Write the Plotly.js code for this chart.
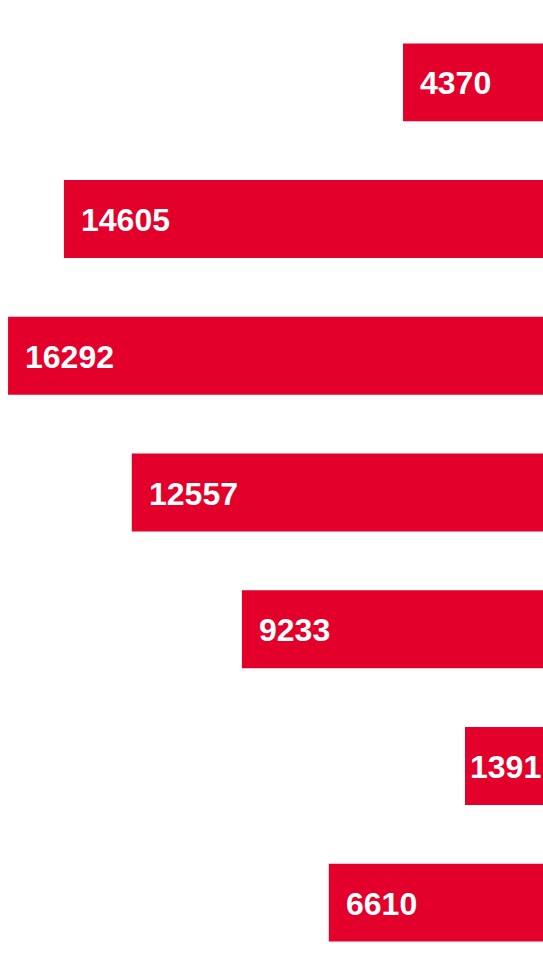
<!DOCTYPE html>
<html>
<head>
<meta charset="utf-8">
<script src="https://cdn.plot.ly/plotly-3.0.1.min.js"></script>
<style>html,body{margin:0;padding:0;background:#fff;}#chart{width:543px;height:980px;}</style>
</head>
<body>
<div id="chart"></div>
<script>
// Data (top to bottom)
const categories = ["Row A", "Row B", "Row C", "Row D", "Row E", "Row F", "Row G"];
const values = [4370, 14605, 16292, 12557, 9233, 1391, 6610];
const labels = ["4370", "14605", "16292", "12557", "9233", "1391", "6610"];

const W = 543, H = 980;
const xRange = [16535, 145];           // reversed axis, bars grow leftwards from the right edge
const minBarPx = 78;                    // bars are at least wide enough to hold their label
const unitsPerPx = (xRange[0] - xRange[1]) / W;
const minVal = xRange[1] + minBarPx * unitsPerPx;
const shown = values.map(v => Math.max(v, minVal));

const barColor = "#e3002b";

const trace = {
  type: "bar",
  orientation: "h",
  y: categories,
  x: shown,
  marker: {color: barColor, line: {width: 0}},
  hoverinfo: "skip"
};

const annotations = categories.map((c, i) => ({
  x: shown[i],
  y: c,
  xref: "x",
  yref: "y",
  text: labels[i],
  showarrow: false,
  xanchor: "left",
  yanchor: "middle",
  xshift: values[i] < minVal ? 3 : 15,
  yshift: -1,
  font: {family: "Liberation Sans, Arial, sans-serif", size: 32, color: "#ffffff", weight: "bold"}
}));

const layout = {
  width: W,
  height: H,
  margin: {l: 0, r: 0, t: 14, b: 9, pad: 0},
  paper_bgcolor: "#ffffff",
  plot_bgcolor: "#ffffff",
  showlegend: false,
  bargap: 0.43,
  xaxis: {range: xRange, visible: false, fixedrange: true},
  yaxis: {type: "category", categoryorder: "array", categoryarray: categories.slice().reverse(),
          range: [-0.5, categories.length - 0.5], visible: false, fixedrange: true},
  annotations: annotations
};

Plotly.newPlot("chart", [trace], layout, {staticPlot: true, displayModeBar: false});
</script>
</body>
</html>
